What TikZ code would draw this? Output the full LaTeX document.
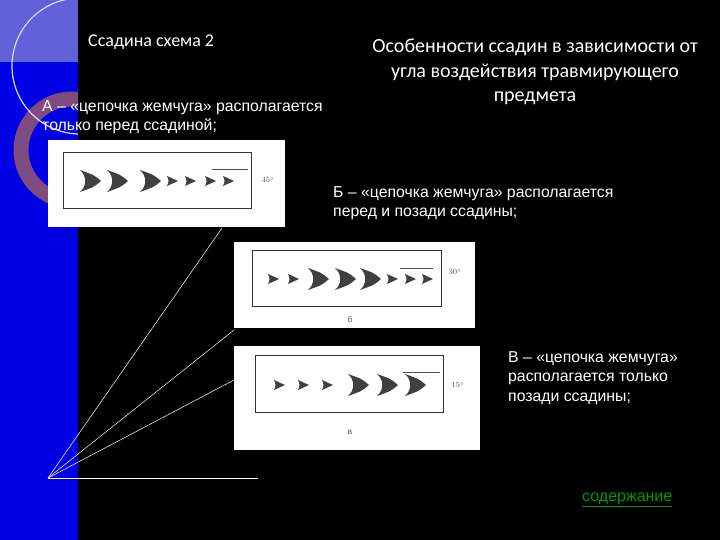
\documentclass[tikz,border=0pt]{standalone}
\usepackage{fontspec}
\setmainfont{Liberation Sans}
\newfontfamily\calib{Carlito}
\begin{document}
\begin{tikzpicture}[x=1pt,y=-1pt,
  txt/.style={text=white,font=\fontsize{15.8}{19.5}\selectfont,anchor=west,inner sep=0,align=left},
  photo/.style={fill=white,draw=none},
  frame/.style={draw=black!80,line width=1pt},
  ray/.style={draw=white,line width=0.5pt},
  big/.pic={\fill[black!75] (11,0) .. controls (4,6) .. (-10,11) .. controls (-3,5) and (-3,-5) .. (-10,-11) .. controls (4,-6) .. (11,0) -- cycle;},
  sm/.pic={\fill[black!75] (6,0) -- (-5,5) .. controls (-3,1) and (-3,-1) .. (-5,-5) -- cycle;},
  deg/.style={font=\fontsize{8}{9}\selectfont\rmfamily,text=black!70,inner sep=0}]
\fill[black] (0,0) rectangle (720,540);
\useasboundingbox (0,0) rectangle (720,540);
\fill[blue!90!black] (0,0) rectangle (78,540);
\begin{scope}
\clip (0,0) rectangle (78,540);
\fill[blue!55!white!85!black] (0,0) rectangle (78,62);
\draw[line width=15pt,draw=violet!40!gray] (72,150) circle (51);
\draw[white!85!blue,line width=1.2pt] (80,66) circle (68);
\end{scope}
\node[txt,font=\calib\fontsize{18}{20}\selectfont] (t1) at (88,42) {Ссадина схема 2};
\node[text=white,font=\calib\fontsize{20}{24.5}\selectfont,align=center,inner sep=0] (t2) at (535,72) {Особенности ссадин в зависимости от\\угла воздействия травмирующего\\предмета};
\node[txt] (ta) at (42,117) {А – «цепочка жемчуга» располагается\\только перед ссадиной;};
\node[txt] (tb) at (333,203) {Б – «цепочка жемчуга» располагается\\перед и позади ссадины;};
\node[txt] (tc) at (508,378) {В – «цепочка жемчуга»\\располагается только\\позади ссадины;};
\node[anchor=west,inner sep=0,text=green!60!black,font=\fontsize{16}{18}\selectfont] (lk) at (582,500) {\underline{содержание}};
% photo 1
\fill[photo] (48,140) rectangle (285,227);
\draw[frame] (63,153) rectangle (251,209);
\foreach \x in {90,117,150} \pic at (\x,181) {big};
\foreach \x in {172,190,210,228} \pic at (\x,181) {sm};
\draw[black!70] (212,169) -- (248,169);
\node[deg] (d1) at (268,180) {$45^\circ$};
% photo 2
\fill[photo] (234,242) rectangle (475,328);
\draw[frame] (252,250) rectangle (441,306);
\foreach \x in {318,345,370} \pic at (\x,279) {big};
\foreach \x in {273,293,392,410,427} \pic at (\x,279) {sm};
\draw[black!70] (400,268) -- (433,268);
\node[deg] (d2) at (455,272) {$30^\circ$};
\node[deg] (l2) at (350,320) {б};
% photo 3
\fill[photo] (234,346) rectangle (480,450);
\draw[frame] (255,355) rectangle (443,412);
\foreach \x in {358,387,415} \pic at (\x,385) {big};
\foreach \x in {279,303,327} \pic at (\x,385) {sm};
\draw[black!70] (403,372) -- (440,372);
\node[deg] (d3) at (458,385) {$15^\circ$};
\node[deg] (l3) at (350,432) {в};
% rays
\coordinate (o) at (48,478);
\coordinate (r1) at (222,228);
\coordinate (r2) at (234,330);
\coordinate (r3) at (234,380);
\coordinate (r4) at (258,478);
\foreach \r in {r1,r2,r3,r4} \draw[ray] (o) -- (\r);
\end{tikzpicture}
\end{document}
